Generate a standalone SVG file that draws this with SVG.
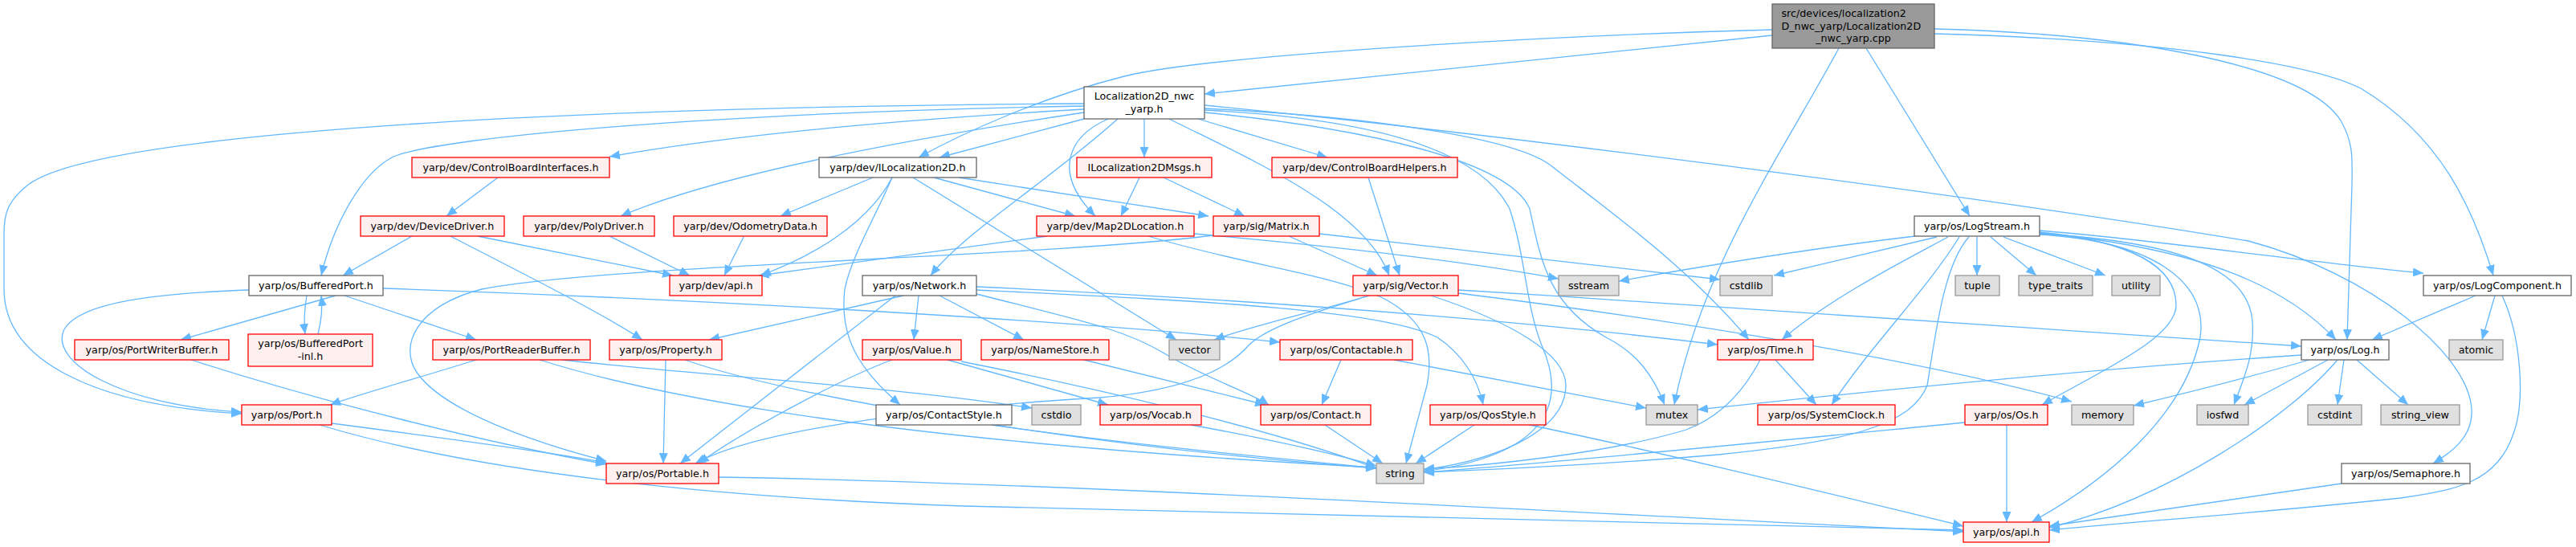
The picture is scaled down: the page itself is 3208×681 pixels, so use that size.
<svg xmlns="http://www.w3.org/2000/svg" width="3208" height="681" viewBox="0 0 3208 681">
<style>
text{font-family:"DejaVu Sans","Liberation Sans",sans-serif;font-size:12.7px;fill:#000;text-anchor:middle}
.w rect{fill:#fff;stroke:#666;stroke-width:1.3}
.r rect{fill:#fff0f0;stroke:#f00;stroke-width:1.3}
.x rect{fill:#e0e0e0;stroke:#999;stroke-width:1.3}
.k rect{fill:#999;stroke:#666;stroke-width:1.3}
#edges path{fill:none;stroke:#63b8ff;stroke-width:1.3;marker-end:url(#a)}
</style>
<defs>
<marker id="a" markerUnits="userSpaceOnUse" markerWidth="14" markerHeight="11" refX="13" refY="5.5" orient="auto"><path d="M0,0 L13,5.5 L0,11 z" fill="#63b8ff"/></marker>
</defs>
<rect width="3208" height="681" fill="#fff"/>
<g id="edges">
<path d="M2207,44 C1950,70 1700,95 1500,117"/>
<path d="M2207,37 C1900,45 1500,70 1400,95 C1300,120 1200,165 1144,196"/>
<path d="M2290,60 C2220,190 2120,330 2085,504"/>
<path d="M2324,60 L2453,269"/>
<path d="M2409,36 C2650,42 2870,80 2915,150 C2932,180 2929,200 2929,230 L2923,423"/>
<path d="M2409,42 C2700,50 2880,80 2940,110 C3040,170 3080,260 3105,343"/>
<path d="M1350,129 C700,133 120,165 35,230 C10,250 5,265 5,290 L5,360 C5,450 120,505 301,515"/>
<path d="M1350,132 C900,140 550,170 490,195 C450,215 415,280 400,343"/>
<path d="M1350,136 C1100,150 900,170 759,195"/>
<path d="M1350,140 C1150,170 900,215 773,269"/>
<path d="M1350,148 L1170,196"/>
<path d="M1425,148 L1425,196"/>
<path d="M1380,148 C1330,170 1310,215 1364,269"/>
<path d="M1392,148 C1300,230 1200,290 1159,343"/>
<path d="M1456,148 C1560,200 1700,260 1730,343"/>
<path d="M1492,148 L1653,196"/>
<path d="M1500,135 C1700,145 1880,170 1930,205 C2000,260 2100,330 2178,423"/>
<path d="M1500,137 C1750,150 1850,200 1880,260 C1900,320 1900,380 1920,430 C1960,520 1900,570 1773,587"/>
<path d="M1500,140 C1700,160 1880,200 1905,260 C1920,330 1930,380 2000,420 C2040,440 2060,470 2073,504"/>
<path d="M1500,131 C1900,170 2500,250 2800,300 C2950,340 3075,440 3078,510 C3080,545 3050,565 3030,577"/>
<path d="M1087,221 L972,269"/>
<path d="M1111,221 C1080,280 1010,320 947,343"/>
<path d="M1111,221 C1090,270 1060,320 1052,360 C1045,420 1070,460 1121,504"/>
<path d="M1137,221 L1465,423"/>
<path d="M1163,221 L1339,269"/>
<path d="M1194,221 L1505,269"/>
<path d="M1419,221 L1396,269"/>
<path d="M1449,221 L1550,269"/>
<path d="M1704,221 L1743,343"/>
<path d="M620,221 L556,269"/>
<path d="M513,294 L427,343"/>
<path d="M595,294 L838,343"/>
<path d="M561,294 C650,340 750,390 800,423"/>
<path d="M759,294 L859,343"/>
<path d="M926,295 L902,343"/>
<path d="M1304,294 L945,343"/>
<path d="M1487,291 C1700,310 1850,330 1941,347"/>
<path d="M1430,294 C1550,330 1650,340 1720,370 C1780,400 1785,440 1777,480 L1751,577"/>
<path d="M1605,294 L1715,343"/>
<path d="M1643,291 L2142,348"/>
<path d="M1511,293 C1300,320 750,330 600,360 C520,380 495,430 520,465 C560,520 700,560 755,574"/>
<path d="M1705,368 C1650,385 1580,405 1555,430 C1520,470 1450,488 1370,495 C1200,505 950,530 866,577"/>
<path d="M1705,368 C1650,385 1560,405 1512,423"/>
<path d="M1782,368 C1880,400 1950,440 1950,480 C1950,530 1880,570 1773,585"/>
<path d="M1816,361 C2200,385 2600,410 2866,431"/>
<path d="M1816,365 C2100,400 2400,450 2580,500"/>
<path d="M1144,368 L1138,423"/>
<path d="M1170,368 L1275,423"/>
<path d="M1125,368 L883,423"/>
<path d="M1115,368 L847,577"/>
<path d="M1216,366 C1350,400 1400,410 1450,440 C1500,470 1560,490 1580,504"/>
<path d="M1216,357 C1600,375 1900,400 2139,429"/>
<path d="M1216,361 C1500,375 1720,385 1790,420 C1820,440 1840,470 1847,504"/>
<path d="M1111,448 C1050,470 920,540 870,577"/>
<path d="M1180,448 L1380,504"/>
<path d="M1197,450 C1400,490 1600,540 1714,583"/>
<path d="M1350,448 L1576,504"/>
<path d="M1670,448 L1646,504"/>
<path d="M1736,448 L2050,508"/>
<path d="M1650,529 L1722,577"/>
<path d="M1836,529 L1763,577"/>
<path d="M1905,529 C2100,570 2300,620 2445,655"/>
<path d="M2211,448 L2262,504"/>
<path d="M2192,448 C2170,490 2140,520 2100,535 C2000,565 1850,580 1773,584"/>
<path d="M2385,294 C2250,310 2100,335 2016,350"/>
<path d="M2412,295 L2209,343"/>
<path d="M2426,295 C2380,320 2280,370 2219,423"/>
<path d="M2440,295 C2400,360 2330,430 2281,504"/>
<path d="M2452,295 C2420,330 2410,420 2400,480 C2380,530 2300,550 2140,566 C2000,578 1850,585 1773,588"/>
<path d="M2462,295 L2462,343"/>
<path d="M2479,295 L2536,343"/>
<path d="M2495,295 L2622,343"/>
<path d="M2540,287 C2700,300 2900,330 3018,340"/>
<path d="M2540,290 C2750,310 2850,360 2909,423"/>
<path d="M2540,291 C2700,300 2800,330 2805,400 C2808,440 2795,470 2782,504"/>
<path d="M2540,292 C2680,300 2750,350 2740,420 C2720,520 2620,600 2530,650"/>
<path d="M2540,289 C2650,300 2710,330 2710,380 C2710,420 2620,460 2543,504"/>
<path d="M2866,442 C2600,460 2300,490 2114,510"/>
<path d="M2876,448 C2800,470 2720,490 2657,505"/>
<path d="M2899,448 L2795,504"/>
<path d="M2919,448 L2911,504"/>
<path d="M2935,448 L2999,504"/>
<path d="M2911,448 C2850,520 2700,620 2552,657"/>
<path d="M3083,368 L2954,423"/>
<path d="M3107,368 L3091,423"/>
<path d="M3116,368 C3140,420 3145,500 3130,540 C3110,600 3060,610 2990,620 C2800,640 2650,650 2552,660"/>
<path d="M2916,602 L2552,655"/>
<path d="M2499,529 L2499,650"/>
<path d="M2447,526 C2200,550 1950,575 1773,588"/>
<path d="M413,527 C550,545 700,565 755,576"/>
<path d="M398,529 C600,590 900,620 1200,630 C1800,645 2200,655 2445,660"/>
<path d="M895,594 C1300,600 2000,640 2445,662"/>
<path d="M238,448 C400,500 600,550 755,578"/>
<path d="M593,448 C540,465 450,490 411,504"/>
<path d="M672,448 C900,520 1300,560 1714,582"/>
<path d="M700,448 C900,470 1100,480 1285,508"/>
<path d="M829,448 L826,577"/>
<path d="M853,448 C1000,500 1400,560 1714,583"/>
<path d="M418,368 L225,423"/>
<path d="M382,368 C380,380 378,400 380,416"/>
<path d="M396,416 C400,400 402,385 400,368"/>
<path d="M429,368 L593,423"/>
<path d="M477,359 C800,370 1300,395 1594,426"/>
<path d="M310,361 C200,365 100,375 80,410 C60,450 150,505 301,513"/>
<path d="M1483,529 C1600,550 1680,570 1714,580"/>
<path d="M1235,529 C1450,560 1650,575 1714,583"/>
</g>
<g id="n_root" class="k"><rect x="2207" y="5" width="202" height="55"/><text x="2218.5" y="21" style="text-anchor:start">src/devices/localization2</text><text x="2218.5" y="36.5" style="text-anchor:start">D_nwc_yarp/Localization2D</text><text x="2308" y="52">_nwc_yarp.cpp</text></g>
<g id="n_loc" class="w"><rect x="1350" y="108" width="150" height="40"/><text x="1425" y="124">Localization2D_nwc</text><text x="1425" y="139.5">_yarp.h</text></g>
<g id="n_cbi" class="r"><rect x="513" y="196" width="246" height="25"/><text x="636" y="213">yarp/dev/ControlBoardInterfaces.h</text></g>
<g id="n_iloc" class="w"><rect x="1020" y="196" width="196" height="25"/><text x="1118" y="213">yarp/dev/ILocalization2D.h</text></g>
<g id="n_ilocmsgs" class="r"><rect x="1341" y="196" width="168" height="25"/><text x="1425" y="213">ILocalization2DMsgs.h</text></g>
<g id="n_cbh" class="r"><rect x="1584" y="196" width="231" height="25"/><text x="1699.5" y="213">yarp/dev/ControlBoardHelpers.h</text></g>
<g id="n_dd" class="r"><rect x="449" y="269" width="179" height="25"/><text x="538.5" y="286">yarp/dev/DeviceDriver.h</text></g>
<g id="n_poly" class="r"><rect x="652" y="269" width="163" height="25"/><text x="733.5" y="286">yarp/dev/PolyDriver.h</text></g>
<g id="n_odo" class="r"><rect x="839" y="269" width="191" height="25"/><text x="934.5" y="286">yarp/dev/OdometryData.h</text></g>
<g id="n_map" class="r"><rect x="1291" y="269" width="196" height="25"/><text x="1389" y="286">yarp/dev/Map2DLocation.h</text></g>
<g id="n_matrix" class="r"><rect x="1511" y="269" width="132" height="25"/><text x="1577" y="286">yarp/sig/Matrix.h</text></g>
<g id="n_logstream" class="w"><rect x="2384" y="269" width="156" height="25"/><text x="2462" y="286">yarp/os/LogStream.h</text></g>
<g id="n_devapi" class="r"><rect x="834" y="343" width="115" height="25"/><text x="891.5" y="360">yarp/dev/api.h</text></g>
<g id="n_bp" class="w"><rect x="310" y="343" width="167" height="25"/><text x="393.5" y="360">yarp/os/BufferedPort.h</text></g>
<g id="n_network" class="w"><rect x="1074" y="343" width="142" height="25"/><text x="1145" y="360">yarp/os/Network.h</text></g>
<g id="n_vectorh" class="r"><rect x="1685" y="343" width="131" height="25"/><text x="1750.5" y="360">yarp/sig/Vector.h</text></g>
<g id="n_sstream" class="x"><rect x="1941" y="343" width="75" height="25"/><text x="1978.5" y="360">sstream</text></g>
<g id="n_cstdlib" class="x"><rect x="2142" y="343" width="65" height="25"/><text x="2174.5" y="360">cstdlib</text></g>
<g id="n_tuple" class="x"><rect x="2435" y="343" width="55" height="25"/><text x="2462.5" y="360">tuple</text></g>
<g id="n_typetraits" class="x"><rect x="2514" y="343" width="92" height="25"/><text x="2560" y="360">type_traits</text></g>
<g id="n_utility" class="x"><rect x="2630" y="343" width="60" height="25"/><text x="2660" y="360">utility</text></g>
<g id="n_logcomp" class="w"><rect x="3018" y="343" width="184" height="25"/><text x="3110" y="360">yarp/os/LogComponent.h</text></g>
<g id="n_pwb" class="r"><rect x="93" y="423" width="192" height="25"/><text x="189" y="440">yarp/os/PortWriterBuffer.h</text></g>
<g id="n_bpinl" class="r"><rect x="309" y="416" width="155" height="40"/><text x="386.5" y="432">yarp/os/BufferedPort</text><text x="386.5" y="447.5">-inl.h</text></g>
<g id="n_prb" class="r"><rect x="539" y="423" width="196" height="25"/><text x="637" y="440">yarp/os/PortReaderBuffer.h</text></g>
<g id="n_property" class="r"><rect x="759" y="423" width="140" height="25"/><text x="829" y="440">yarp/os/Property.h</text></g>
<g id="n_value" class="r"><rect x="1074" y="423" width="123" height="25"/><text x="1135.5" y="440">yarp/os/Value.h</text></g>
<g id="n_namestore" class="r"><rect x="1222" y="423" width="159" height="25"/><text x="1301.5" y="440">yarp/os/NameStore.h</text></g>
<g id="n_vector" class="x"><rect x="1456" y="423" width="63" height="25"/><text x="1487.5" y="440">vector</text></g>
<g id="n_contactable" class="r"><rect x="1594" y="423" width="165" height="25"/><text x="1676.5" y="440">yarp/os/Contactable.h</text></g>
<g id="n_time" class="r"><rect x="2139" y="423" width="119" height="25"/><text x="2198.5" y="440">yarp/os/Time.h</text></g>
<g id="n_log" class="w"><rect x="2866" y="423" width="109" height="25"/><text x="2920.5" y="440">yarp/os/Log.h</text></g>
<g id="n_atomic" class="x"><rect x="3050" y="423" width="67" height="25"/><text x="3083.5" y="440">atomic</text></g>
<g id="n_port" class="r"><rect x="301" y="504" width="112" height="25"/><text x="357" y="521">yarp/os/Port.h</text></g>
<g id="n_contactstyle" class="w"><rect x="1091" y="504" width="169" height="25"/><text x="1175.5" y="521">yarp/os/ContactStyle.h</text></g>
<g id="n_cstdio" class="x"><rect x="1285" y="504" width="61" height="25"/><text x="1315.5" y="521">cstdio</text></g>
<g id="n_vocab" class="r"><rect x="1370" y="504" width="126" height="25"/><text x="1433" y="521">yarp/os/Vocab.h</text></g>
<g id="n_contact" class="r"><rect x="1570" y="504" width="137" height="25"/><text x="1638.5" y="521">yarp/os/Contact.h</text></g>
<g id="n_qos" class="r"><rect x="1781" y="504" width="144" height="25"/><text x="1853" y="521">yarp/os/QosStyle.h</text></g>
<g id="n_mutex" class="x"><rect x="2050" y="504" width="64" height="25"/><text x="2082" y="521">mutex</text></g>
<g id="n_sysclock" class="r"><rect x="2189" y="504" width="171" height="25"/><text x="2274.5" y="521">yarp/os/SystemClock.h</text></g>
<g id="n_os" class="r"><rect x="2447" y="504" width="103" height="25"/><text x="2498.5" y="521">yarp/os/Os.h</text></g>
<g id="n_memory" class="x"><rect x="2580" y="504" width="77" height="25"/><text x="2618.5" y="521">memory</text></g>
<g id="n_iosfwd" class="x"><rect x="2736" y="504" width="64" height="25"/><text x="2768" y="521">iosfwd</text></g>
<g id="n_cstdint" class="x"><rect x="2874" y="504" width="67" height="25"/><text x="2907.5" y="521">cstdint</text></g>
<g id="n_stringview" class="x"><rect x="2965" y="504" width="98" height="25"/><text x="3014" y="521">string_view</text></g>
<g id="n_portable" class="r"><rect x="755" y="577" width="140" height="25"/><text x="825" y="594">yarp/os/Portable.h</text></g>
<g id="n_string" class="x"><rect x="1714" y="577" width="59" height="25"/><text x="1743.5" y="594">string</text></g>
<g id="n_semaphore" class="w"><rect x="2916" y="577" width="160" height="25"/><text x="2996" y="594">yarp/os/Semaphore.h</text></g>
<g id="n_osapi" class="r"><rect x="2445" y="650" width="107" height="25"/><text x="2498.5" y="667">yarp/os/api.h</text></g>
</svg>
